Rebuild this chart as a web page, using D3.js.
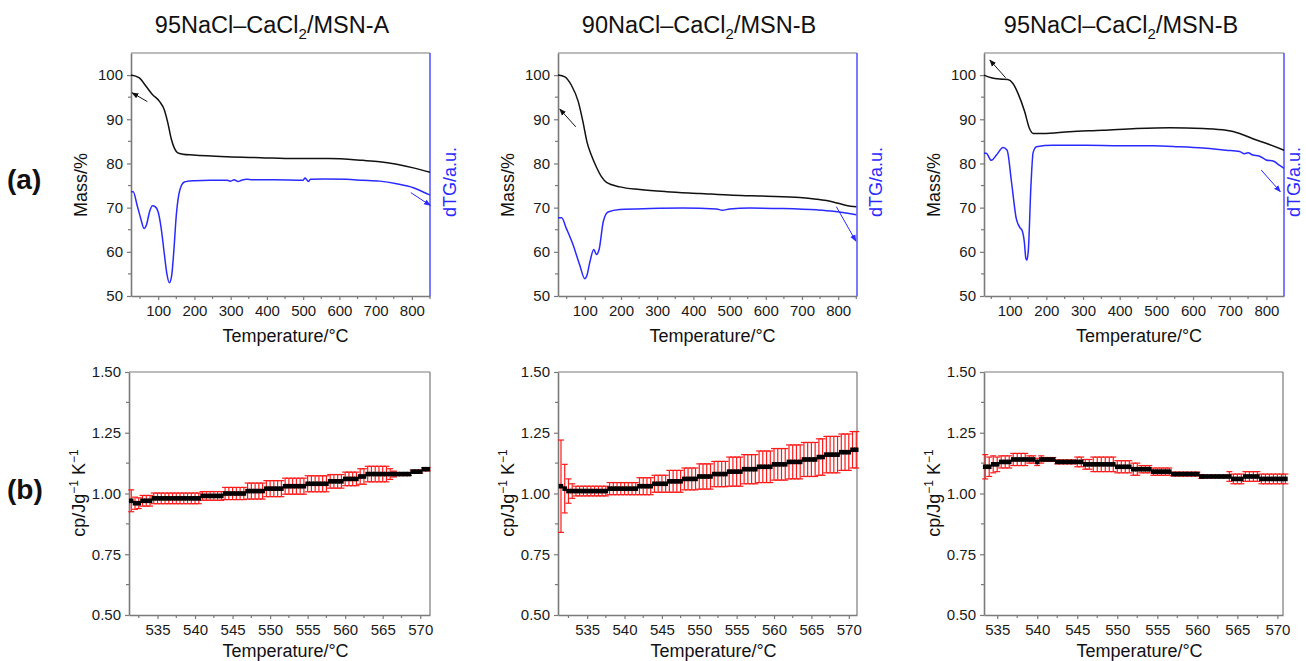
<!DOCTYPE html>
<html>
<head>
<meta charset="utf-8">
<script src="https://cdn.jsdelivr.net/npm/d3@7"></script>
<style>
  body { margin: 0; background: #fff; }
  svg { font-family: "Liberation Sans", Arial, sans-serif; }
</style>
</head>
<body>
<div id="chart"></div>
<script>
// ---- TG / dTG data (row a) ----
var titles = ["95NaCl\u2013CaCl", "90NaCl\u2013CaCl", "95NaCl\u2013CaCl"];
var titleTails = ["/MSN-A", "/MSN-B", "/MSN-B"];

var tgTempA = [25, 47, 67, 84, 103, 117, 126, 136, 145, 154, 168, 196, 290, 383, 477, 570, 664, 711, 758, 804, 850];
var tgMassA = [100, 99.4, 97.4, 95.6, 94.1, 92.1, 89.4, 85.6, 83.4, 82.4, 82.1, 81.9, 81.5, 81.3, 81.1, 81.1, 80.7, 80.4, 79.8, 79.0, 78.0];
var dtgTempA = [25, 31, 42, 52, 61, 68, 76, 84, 92, 100, 108, 117, 124, 131, 137, 143, 150, 157, 164, 172, 182, 200, 243, 290, 300, 310, 320, 330, 345, 360, 420, 500, 505, 510, 515, 520, 560, 620, 664, 711, 758, 804, 830, 846, 850];
var dtgValA = [73.6, 73.6, 70.5, 67.5, 65.3, 66.2, 69.0, 70.4, 70.2, 69.0, 65.5, 59.5, 55.0, 53.0, 54.5, 60.0, 68.3, 73.0, 75.0, 75.8, 76.0, 76.1, 76.2, 76.2, 76.0, 76.3, 75.9, 76.2, 76.4, 76.3, 76.3, 76.2, 76.7, 76.3, 75.9, 76.4, 76.5, 76.4, 76.2, 76.0, 75.4, 74.5, 73.6, 73.0, 72.9];

var tgTempB = [26, 45, 63, 82, 95, 106, 118, 132, 146, 160, 197, 252, 326, 418, 510, 602, 694, 740, 786, 823, 850];
var tgMassB = [100, 99.6, 97.7, 94.0, 89.4, 84.9, 81.9, 79.2, 77.0, 75.7, 74.7, 74.1, 73.6, 73.2, 72.8, 72.6, 72.3, 71.9, 71.3, 70.5, 70.2];
var dtgTempB = [26, 36, 49, 68, 86, 100, 106, 114, 125, 132, 140, 151, 164, 197, 280, 372, 464, 480, 500, 556, 648, 740, 786, 850];
var dtgValB = [67.7, 67.7, 65.3, 61.5, 57.0, 53.9, 54.7, 57.7, 60.5, 59.4, 60.7, 66.8, 69.0, 69.6, 69.8, 69.9, 69.7, 69.4, 69.7, 69.9, 69.8, 69.5, 69.2, 68.4];

var tgTempC = [30, 50, 73, 95, 109, 123, 141, 154, 164, 191, 263, 354, 445, 536, 627, 690, 727, 763, 808, 848];
var tgMassC = [100, 99.4, 99.1, 99.0, 98.1, 95.8, 91.7, 87.9, 86.8, 86.8, 87.2, 87.5, 87.9, 88.1, 87.9, 87.5, 86.8, 85.6, 84.3, 83.0];
var dtgTempC = [30, 36, 50, 64, 82, 93, 105, 118, 128, 134, 140, 144, 147, 151, 158, 164, 173, 218, 309, 400, 491, 560, 627, 690, 727, 740, 750, 763, 780, 799, 820, 835, 848];
var dtgValC = [82.3, 82.3, 80.7, 81.9, 83.6, 83.0, 75.8, 67.5, 65.5, 64.8, 62.2, 58.6, 58.1, 60.5, 75.0, 82.5, 83.8, 84.1, 84.1, 84.0, 84.0, 83.8, 83.5, 83.0, 82.7, 82.2, 82.4, 81.9, 81.7, 80.8, 80.5, 79.6, 78.9];

// arrows [fromT, fromV, toT, toV]
var arrowsMassA = [70, 94.0, 28, 96.0];
var arrowsDtgA = [797, 73.4, 851, 70.5];
var arrowsMassB = [75, 88.3, 31, 92.3];
var arrowsDtgB = [795, 70.2, 849, 62.4];
var arrowsMassC = [89, 99.4, 46, 103.4];
var arrowsDtgC = [786, 78.5, 838, 73.6];

// ---- cp data (row b) ----
var cpTempAB = [531.5,532,532.5,533,533.5,534,534.5,535,535.5,536,536.5,537,537.5,538,538.5,539,539.5,540,540.5,541,541.5,542,542.5,543,543.5,544,544.5,545,545.5,546,546.5,547,547.5,548,548.5,549,549.5,550,550.5,551,551.5,552,552.5,553,553.5,554,554.5,555,555.5,556,556.5,557,557.5,558,558.5,559,559.5,560,560.5,561,561.5,562,562.5,563,563.5,564,564.5,565,565.5,566,566.5,567,567.5,568,568.5,569,569.5,570,570.5,571];
var cpMeanA = [0.97,0.96,0.96,0.97,0.97,0.97,0.98,
  0.98,0.98,0.98,0.98,0.98,0.98,0.98,0.98,0.98,0.98,0.98,0.98,
  0.99,0.99,0.99,0.99,0.99,0.99,
  1.00,1.00,1.00,1.00,1.00,1.00,
  1.01,1.01,1.01,1.01,1.01,
  1.02,1.02,1.02,1.02,1.02,
  1.03,1.03,1.03,1.03,1.03,1.03,
  1.04,1.04,1.04,1.04,1.04,1.04,
  1.05,1.05,1.05,1.05,
  1.06,1.06,1.06,1.06,
  1.07,1.07,
  1.08,1.08,1.08,1.08,1.08,1.08,1.08,1.08,1.08,1.08,1.08,1.08,
  1.09,1.09,1.09,
  1.10,1.10];
var cpErrA = [0.045,0.025,0.022,0.022,0.022,0.022,0.022,
  0.022,0.022,0.022,0.022,0.022,0.022,0.022,0.022,0.022,0.022,0.022,0.022,
  0.018,0.018,0.018,0.018,0.018,0.018,
  0.025,0.025,0.025,0.025,0.025,0.025,
  0.033,0.033,0.033,0.033,0.033,0.033,0.033,0.033,0.033,0.033,
  0.033,0.033,0.033,0.033,0.033,0.033,0.033,0.033,0.033,0.033,0.033,0.033,
  0.028,0.028,0.028,0.028,0.028,0.028,0.028,0.028,
  0.032,0.032,0.032,0.032,0.032,0.032,0.032,0.032,
  0.022,0.012,
  0.006,0.006,0.006,0.006,0.006,0.006,0.006,0.006,0.006];

var cpMeanB = [1.03,1.02,1.01,
  1.01,1.01,1.01,1.01,1.01,1.01,1.01,1.01,1.01,1.01,
  1.02,1.02,1.02,1.02,1.02,1.02,1.02,1.02,
  1.03,1.03,1.03,1.03,
  1.04,1.04,1.04,1.04,
  1.05,1.05,1.05,1.05,
  1.06,1.06,1.06,1.06,
  1.07,1.07,1.07,1.07,
  1.08,1.08,1.08,1.08,
  1.09,1.09,1.09,1.09,
  1.10,1.10,1.10,1.10,
  1.11,1.11,1.11,1.11,
  1.12,1.12,1.12,1.12,
  1.13,1.13,1.13,1.13,
  1.14,1.14,1.14,1.14,
  1.15,1.15,
  1.16,1.16,1.16,1.16,
  1.17,1.17,1.17,
  1.18,1.18];
var cpErrB = [0.19,0.10,0.05,0.03,
  0.02,0.02,0.02,0.02,0.02,0.02,0.02,0.02,0.02,
  0.025,0.025,0.025,0.025,0.025,0.025,0.025,0.025,
  0.035,0.035,0.035,0.035,0.035,0.035,0.035,0.035,
  0.045,0.045,0.045,0.045,0.045,0.045,0.045,0.045,
  0.052,0.052,0.052,0.052,0.052,0.052,0.052,0.052,
  0.06,0.06,0.06,0.06,0.06,0.06,0.06,0.06,
  0.065,0.065,0.065,0.065,0.065,0.065,0.065,0.065,
  0.07,0.07,0.07,0.07,0.07,0.07,0.07,0.07,
  0.075,0.075,0.075,0.075,0.075,0.075,0.075,0.075,0.075,0.075,0.075];

var cpTempC = [533.5,534,534.5,535,535.5,536,536.5,537,537.5,538,538.5,539,539.5,540,540.5,541,541.5,542,542.5,543,543.5,544,544.5,545,545.5,546,546.5,547,547.5,548,548.5,549,549.5,550,550.5,551,551.5,552,552.5,553,553.5,554,554.5,555,555.5,556,556.5,557,557.5,558,558.5,559,559.5,560,560.5,561,561.5,562,562.5,563,563.5,564,564.5,565,565.5,566,566.5,567,567.5,568,568.5,569,569.5,570,570.5,571];
var cpMeanC = [1.11,1.11,1.12,1.12,
  1.13,1.13,1.13,
  1.14,1.14,1.14,1.14,1.14,1.14,
  1.13,
  1.14,1.14,1.14,1.14,
  1.13,1.13,1.13,1.13,1.13,1.13,1.13,
  1.12,1.12,1.12,1.12,1.12,1.12,1.12,1.12,
  1.11,1.11,1.11,1.11,
  1.10,1.10,1.10,1.10,1.10,
  1.09,1.09,1.09,1.09,1.09,
  1.08,1.08,1.08,1.08,1.08,1.08,1.08,
  1.07,1.07,1.07,1.07,1.07,1.07,1.07,1.07,
  1.06,1.06,1.06,
  1.07,1.07,1.07,1.07,
  1.06,1.06,1.06,1.06,1.06,1.06,1.06];
var cpErrC = [0.05,0.04,0.035,0.03,
  0.025,0.025,0.025,0.025,0.025,0.025,0.025,
  0.015,0.015,0.015,0.015,
  0.008,0.008,0.008,0.008,0.008,0.008,0.008,0.008,
  0.02,0.02,0.02,0.02,
  0.03,0.03,0.03,0.03,0.03,0.03,
  0.025,0.025,0.025,0.025,0.025,0.025,
  0.015,0.015,0.015,0.015,0.015,0.015,0.015,0.015,
  0.008,0.008,0.008,0.008,0.008,0.008,0.008,0.008,
  0.005,0.005,0.005,0.005,0.005,0.005,
  0.02,0.02,0.02,0.02,0.02,0.02,0.02,0.02,
  0.02,0.02,0.02,0.02,0.02,0.02,0.02];

var tgTicks = [100, 200, 300, 400, 500, 600, 700, 800];
var massTicks = [50, 60, 70, 80, 90, 100];
var cpXTicks = [535, 540, 545, 550, 555, 560, 565, 570];
var cpYTicks = [0.50, 0.75, 1.00, 1.25, 1.50];

var axisGrey = "#7a7a7a";
var blueAxis = "#5a5aff";
var curveBlue = "#2a2aff";

var svg = d3.select("#chart").append("svg")
    .attr("width", 1306)
    .attr("height", 661);

var defs = svg.append("defs");
function addMarker(id, color) {
    defs.append("marker")
        .attr("id", id)
        .attr("viewBox", "0 0 10 10")
        .attr("refX", 9).attr("refY", 5)
        .attr("markerWidth", 7).attr("markerHeight", 7)
        .attr("markerUnits", "userSpaceOnUse")
        .attr("orient", "auto")
        .append("path")
        .attr("d", "M0,1 L10,5 L0,9 Z")
        .attr("fill", color);
}
addMarker("arrBlack", "#111");
addMarker("arrBlue", curveBlue);

// panel geometry
var tgPanels = [
    {x0: 131, x1: 430, title: 0, titleX: 272, mass: [tgTempA, tgMassA], dtg: [dtgTempA, dtgValA], arr: [arrowsMassA, arrowsDtgA], xDom: [25, 850], dtgX: 456},
    {x0: 558, x1: 857, title: 1, titleX: 699, mass: [tgTempB, tgMassB], dtg: [dtgTempB, dtgValB], arr: [arrowsMassB, arrowsDtgB], xDom: [26, 852], dtgX: 882},
    {x0: 984, x1: 1284, title: 2, titleX: 1121, mass: [tgTempC, tgMassC], dtg: [dtgTempC, dtgValC], arr: [arrowsMassC, arrowsDtgC], xDom: [30, 848], dtgX: 1300}
];
var cpPanels = [
    {x0: 129, x1: 430, t: cpTempAB, m: cpMeanA, e: cpErrA, xDom: [531.2, 571.3]},
    {x0: 558, x1: 857, t: cpTempAB, m: cpMeanB, e: cpErrB, xDom: [531.1, 571.1]},
    {x0: 984, x1: 1283, t: cpTempC, m: cpMeanC, e: cpErrC, xDom: [533.35, 570.7]}
];

var tgTop = 53, tgBottom = 296;
var cpTop = 372, cpBottom = 615;

function styleAxis(g) {
    g.select(".domain").attr("stroke", axisGrey).attr("stroke-width", 1.6);
    g.selectAll(".tick line").attr("stroke", axisGrey).attr("stroke-width", 1.2);
    g.selectAll(".tick text").attr("fill", "#1a1a1a").attr("font-size", 15);
}

function minorTicks(g, scale, vals, orient, len) {
    g.selectAll(".minor").data(vals).enter().append("line")
        .attr("stroke", axisGrey).attr("stroke-width", 1.2)
        .each(function(d) {
            var s = d3.select(this);
            if (orient === "left") {
                s.attr("x1", 0).attr("x2", -len).attr("y1", scale(d)).attr("y2", scale(d));
            } else {
                s.attr("y1", 0).attr("y2", len).attr("x1", scale(d)).attr("x2", scale(d));
            }
        });
}

// ---- row (a) ----
tgPanels.forEach(function(p, i) {
    var x = d3.scaleLinear().domain(p.xDom).range([p.x0, p.x1]);
    var y = d3.scaleLinear().domain([50, 105]).range([tgBottom, tgTop]);
    var yR = d3.scaleLinear().domain([50, 105]).range([tgBottom, tgTop]);

    // frame top
    svg.append("line").attr("x1", p.x0).attr("x2", p.x1).attr("y1", tgTop).attr("y2", tgTop)
        .attr("stroke", axisGrey).attr("stroke-width", 1.2);

    var gx = svg.append("g").attr("transform", "translate(0," + tgBottom + ")")
        .call(d3.axisBottom(x).tickValues(tgTicks).tickSize(4).tickPadding(5).tickSizeOuter(0));
    styleAxis(gx);
    minorTicks(gx, x, [50, 150, 250, 350, 450, 550, 650, 750, 850].filter(function(v) { return v >= p.xDom[0] && v <= p.xDom[1]; }), "bottom", 3);

    var gy = svg.append("g").attr("transform", "translate(" + p.x0 + ",0)")
        .call(d3.axisLeft(y).tickValues(massTicks).tickSize(4).tickPadding(4).tickSizeOuter(0));
    styleAxis(gy);
    minorTicks(gy, y, [55, 65, 75, 85, 95], "left", 3);

    // right blue axis (no ticks)
    svg.append("line").attr("x1", p.x1).attr("x2", p.x1).attr("y1", tgTop).attr("y2", tgBottom)
        .attr("stroke", blueAxis).attr("stroke-width", 1.6);

    var line = d3.line().curve(d3.curveMonotoneX);
    var massPts = p.mass[0].map(function(t, k) { return [x(t), y(p.mass[1][k])]; });
    var dtgPts = p.dtg[0].map(function(t, k) { return [x(t), yR(p.dtg[1][k])]; });

    svg.append("path").attr("d", line(massPts)).attr("fill", "none")
        .attr("stroke", "#111").attr("stroke-width", 1.5);
    svg.append("path").attr("d", line(dtgPts)).attr("fill", "none")
        .attr("stroke", curveBlue).attr("stroke-width", 1.5);

    var am = p.arr[0], ad = p.arr[1];
    svg.append("line").attr("x1", x(am[0])).attr("y1", y(am[1])).attr("x2", x(am[2])).attr("y2", y(am[3]))
        .attr("stroke", "#111").attr("stroke-width", 1).attr("marker-end", "url(#arrBlack)");
    svg.append("line").attr("x1", x(ad[0])).attr("y1", yR(ad[1])).attr("x2", x(ad[2])).attr("y2", yR(ad[3]))
        .attr("stroke", curveBlue).attr("stroke-width", 1).attr("marker-end", "url(#arrBlue)");

    // title
    var tt = svg.append("text").attr("x", p.titleX).attr("y", 33)
        .attr("text-anchor", "middle").attr("font-size", 23.5).attr("fill", "#111");
    tt.append("tspan").text(titles[p.title]);
    tt.append("tspan").attr("font-size", 15).attr("dy", 6).text("2");
    tt.append("tspan").attr("dy", -6).text(titleTails[p.title]);

    // axis titles
    svg.append("text").attr("x", (p.x0 + p.x1) / 2 + 5).attr("y", 342)
        .attr("text-anchor", "middle").attr("font-size", 18).attr("fill", "#111")
        .text("Temperature/\u00b0C");
    svg.append("text")
        .attr("transform", "translate(" + (p.x0 - 44) + "," + 185 + ") rotate(-90)")
        .attr("text-anchor", "middle").attr("font-size", 18).attr("fill", "#111")
        .text("Mass/%");
    svg.append("text")
        .attr("transform", "translate(" + p.dtgX + "," + 182 + ") rotate(-90)")
        .attr("text-anchor", "middle").attr("font-size", 18).attr("fill", curveBlue)
        .text("dTG/a.u.");
});

// ---- row (b) ----
cpPanels.forEach(function(p) {
    var x = d3.scaleLinear().domain(p.xDom).range([p.x0, p.x1]);
    var y = d3.scaleLinear().domain([0.5, 1.5]).range([cpBottom, cpTop]);

    svg.append("line").attr("x1", p.x0).attr("x2", p.x1).attr("y1", cpTop).attr("y2", cpTop)
        .attr("stroke", axisGrey).attr("stroke-width", 1.2);
    svg.append("line").attr("x1", p.x1).attr("x2", p.x1).attr("y1", cpTop).attr("y2", cpBottom)
        .attr("stroke", axisGrey).attr("stroke-width", 1.2);

    var gx = svg.append("g").attr("transform", "translate(0," + cpBottom + ")")
        .call(d3.axisBottom(x).tickValues(cpXTicks).tickSize(4).tickPadding(5).tickSizeOuter(0));
    styleAxis(gx);
    minorTicks(gx, x, [532.5, 537.5, 542.5, 547.5, 552.5, 557.5, 562.5, 567.5].filter(function(v) { return v >= p.xDom[0]; }), "bottom", 3);

    var gy = svg.append("g").attr("transform", "translate(" + p.x0 + ",0)")
        .call(d3.axisLeft(y).tickValues(cpYTicks).tickFormat(d3.format(".2f")).tickSize(4).tickPadding(4).tickSizeOuter(0));
    styleAxis(gy);
    minorTicks(gy, y, [0.625, 0.875, 1.125, 1.375], "left", 3);

    var pts = p.t.map(function(t, k) { return {t: t, m: p.m[k], e: p.e[k]}; });

    var eb = svg.append("g").attr("stroke", "#ff1a1a").attr("stroke-width", 1.2);
    eb.selectAll(".v").data(pts).enter().append("line")
        .attr("x1", function(d) { return x(d.t); }).attr("x2", function(d) { return x(d.t); })
        .attr("y1", function(d) { return y(d.m - d.e); }).attr("y2", function(d) { return y(d.m + d.e); });
    eb.selectAll(".ct").data(pts).enter().append("line")
        .attr("x1", function(d) { return x(d.t) - 3; }).attr("x2", function(d) { return x(d.t) + 3; })
        .attr("y1", function(d) { return y(d.m + d.e); }).attr("y2", function(d) { return y(d.m + d.e); });
    eb.selectAll(".cb").data(pts).enter().append("line")
        .attr("x1", function(d) { return x(d.t) - 3; }).attr("x2", function(d) { return x(d.t) + 3; })
        .attr("y1", function(d) { return y(d.m - d.e); }).attr("y2", function(d) { return y(d.m - d.e); });

    svg.append("g").selectAll("rect").data(pts).enter().append("rect")
        .attr("x", function(d) { return x(d.t) - 2.3; })
        .attr("y", function(d) { return y(d.m) - 2.3; })
        .attr("width", 4.6).attr("height", 4.6)
        .attr("fill", "#000");

    svg.append("text").attr("x", (p.x0 + p.x1) / 2 + 6).attr("y", 657)
        .attr("text-anchor", "middle").attr("font-size", 18).attr("fill", "#111")
        .text("Temperature/\u00b0C");

    var yl = svg.append("text")
        .attr("transform", "translate(" + (p.x0 - 44) + "," + 493 + ") rotate(-90)")
        .attr("text-anchor", "middle").attr("font-size", 18).attr("fill", "#111");
    yl.append("tspan").text("cp/Jg");
    yl.append("tspan").attr("font-size", 12).attr("dy", -7).text("\u22121");
    yl.append("tspan").attr("dy", 7).text(" K");
    yl.append("tspan").attr("font-size", 12).attr("dy", -7).text("\u22121");
});

// row labels
svg.append("text").attr("x", 7).attr("y", 189).attr("font-size", 28).attr("font-weight", "bold")
    .attr("fill", "#111").text("(a)");
svg.append("text").attr("x", 7).attr("y", 499).attr("font-size", 28).attr("font-weight", "bold")
    .attr("fill", "#111").text("(b)");
</script>
</body>
</html>
